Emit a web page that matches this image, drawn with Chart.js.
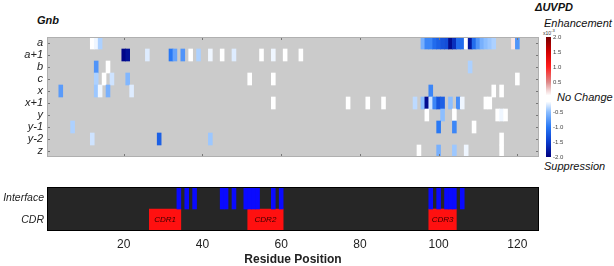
<!DOCTYPE html>
<html>
<head>
<meta charset="utf-8">
<script src="https://cdn.jsdelivr.net/npm/chart.js"></script>
<style>
  body { margin: 0; background: #fff; width: 614px; height: 266px; overflow: hidden; position: relative;
         font-family: "Liberation Sans", Arial, sans-serif; }
  canvas { position: absolute; }
  .t { position: absolute; white-space: nowrap; font-style: italic; color: #111; font-size: 11px; line-height: 1; }
</style>
</head>
<body>
<div class="t" style="left:37px;top:15px;font-weight:bold;">Gnb</div>
<div class="t" style="left:535px;top:2px;font-weight:bold;">&Delta;UVPD</div>
<div class="t" style="left:544px;top:18px;">Enhancement</div>
<div class="t" style="left:543px;top:29px;font-size:5px;font-style:normal;color:#333;">x10<sup>-3</sup></div>
<div class="t" style="left:557px;top:92px;">No Change</div>
<div class="t" style="left:544px;top:161px;">Suppression</div>

<canvas id="heat" width="539" height="120" style="left:0;top:37px;"></canvas>
<canvas id="seq" width="539" height="79" style="left:0;top:187px;"></canvas>
<canvas id="cbar" width="30" height="134" style="left:546px;top:30px;"></canvas>

<script>
// rows of the heatmap (top to bottom)
const rows = ['a', 'a+1', 'b', 'c', 'x', 'x+1', 'y', 'y-1', 'y-2', 'z'];

// [residue, delta UVPD (x10^-3)] per row
const cellsA   = [[12,-0.05],[13,-0.2],[14,-0.4],[96,-0.6],[97,-0.9],[98,-0.9],[99,-1.1],[100,-1.2],[101,-1.3],
                  [102,-1.35],[103,-1.9],[104,-1.6],[105,-1.1],[106,-1.1],[107,-0.05],[108,-1.8],[109,-1.1],
                  [110,-0.8],[111,-0.6],[112,-0.5],[113,-0.45],[114,-0.4],[119,0.15],[120,-0.8]];
const cellsA1  = [[20,-1.95],[21,-1.85],[26,-0.25],[32,-1.0],[33,-0.7],[35,-0.8],[37,-0.15],[39,-0.4],[42,-0.2],
                  [45,-0.1],[48,-0.25],[55,-0.1],[58,-0.2],[61,-0.15],[65,-0.15]];
const cellsB   = [[13,-0.8],[16,-0.05],[108,-0.4]];
const cellsC   = [[13,-0.4],[15,-0.02],[17,-0.3],[21,-0.55],[52,-0.05],[58,-0.15],[120,-0.03]];
const cellsX   = [[4,-0.75],[13,-0.45],[14,-0.2],[16,-0.6],[22,-0.25],[98,-0.9],[114,-0.12],[116,-0.15]];
const cellsX1  = [[58,-0.12],[77,-0.03],[82,-0.12],[86,-0.03],[94,-0.35],[96,-0.5],[97,-1.9],[98,-0.3],[99,-0.9],
                  [100,-1.3],[101,-1.2],[103,-0.5],[105,-0.85],[106,-0.2],[112,-0.1],[113,-0.1]];
const cellsY   = [[97,-0.03],[101,-0.5],[104,-0.03],[115,-0.15],[116,-0.2],[117,-0.15]];
const cellsY1  = [[7,-0.4],[100,-1.0],[104,-0.9],[109,-0.15]];
const cellsY2  = [[12,-0.3],[29,-1.2],[42,-0.45],[116,-0.03]];
const cellsZ   = [[95,-0.03],[100,-0.6],[104,-0.45],[107,-0.2],[116,-0.03]];
const rowCells = [cellsA, cellsA1, cellsB, cellsC, cellsX, cellsX1, cellsY, cellsY1, cellsY2, cellsZ];

// lower panel
const interfaceResidues = [34, 36, 38, 45, 46, 48, 51, 52, 53, 54, 58, 60, 98, 100, 102, 103, 104, 106];
const cdrNames = ['CDR1', 'CDR2', 'CDR3'];
const cdrStart = [27, 52, 98];
const cdrEnd   = [34, 60, 104];

const xTicks = [20, 40, 60, 80, 100, 120];
const barTicks = [2.0, 1.5, 1.0, 0.5, -0.5, -1.0, -1.5, -2.0];

// colormap (value -> rgb)
const stops = [[-2, [0,0,128]], [-1.5, [10,60,205]], [-1, [40,120,245]], [-0.5, [140,190,255]],
               [-0.15, [255,255,255]], [0.05, [255,255,255]], [0.25, [240,205,205]], [0.5, [222,135,135]],
               [1, [255,30,30]], [1.5, [210,0,0]], [2, [120,0,0]]];

function colorFor(v) {
  if (v <= stops[0][0]) return 'rgb(' + stops[0][1].join(',') + ')';
  for (let i = 1; i < stops.length; i++) {
    if (v <= stops[i][0]) {
      const [v0, c0] = stops[i-1], [v1, c1] = stops[i];
      const f = (v - v0) / (v1 - v0);
      return 'rgb(' + c0.map((c, k) => Math.round(c + (c1[k] - c) * f)).join(',') + ')';
    }
  }
  return 'rgb(' + stops[stops.length-1][1].join(',') + ')';
}

const font = { family: '"Liberation Sans", Arial, sans-serif', size: 11 };

// category axis with fixed width and no extra label padding
const fixedYAxis = s => { s.width = 47; s.paddingTop = 0; s.paddingBottom = 0; };

// fill + outline of the plot area, inner tick marks
function panelPlugin(fill, stroke, ticks) {
  return {
    id: 'panel',
    beforeDatasetsDraw(chart) {
      const { ctx, chartArea: a } = chart;
      ctx.save();
      ctx.fillStyle = fill;
      ctx.fillRect(a.left, a.top, a.right - a.left, a.bottom - a.top);
      ctx.restore();
    },
    afterDatasetsDraw(chart) {
      const { ctx, chartArea: a, scales } = chart;
      ctx.save();
      if (ticks) {
        ctx.strokeStyle = '#777';
        ctx.lineWidth = 1;
        ctx.beginPath();
        scales.y.ticks.forEach((t, i) => {
          const y = Math.round(scales.y.getPixelForTick(i)) + 0.5;
          ctx.moveTo(a.left, y); ctx.lineTo(a.left + 3, y);
          ctx.moveTo(a.right, y); ctx.lineTo(a.right - 3, y);
        });
        xTicks.forEach(v => {
          const x = Math.round(scales.x.getPixelForValue(v)) + 0.5;
          ctx.moveTo(x, a.top); ctx.lineTo(x, a.top + 3);
          ctx.moveTo(x, a.bottom); ctx.lineTo(x, a.bottom - 3);
        });
        ctx.stroke();
      }
      ctx.strokeStyle = stroke;
      ctx.lineWidth = 1;
      ctx.strokeRect(a.left + 0.5, a.top + 0.5, a.right - a.left - 1, a.bottom - a.top - 1);
      ctx.restore();
    }
  };
}

// heatmap
const heatData = [];
rows.forEach((name, i) => rowCells[i].forEach(([r, v]) => heatData.push({ x: [r - 0.5, r + 0.5], y: name, v: v })));

new Chart(document.getElementById('heat'), {
  type: 'bar',
  data: {
    labels: rows,
    datasets: [{
      data: heatData,
      backgroundColor: c => colorFor(c.raw ? c.raw.v : 0),
      borderWidth: 0,
      barPercentage: 1,
      categoryPercentage: 1,
      grouped: false
    }]
  },
  options: {
    indexAxis: 'y',
    responsive: false,
    animation: false,
    layout: { padding: 0 },
    plugins: { legend: { display: false }, tooltip: { enabled: false } },
    scales: {
      x: { type: 'linear', min: 0.5, max: 125.5, display: false },
      y: {
        type: 'category',
        offset: true,
        grid: { display: false, drawTicks: false },
        border: { display: false },
        ticks: { font: { ...font, style: 'italic' }, color: '#222', padding: 4, autoSkip: false },
        afterFit: fixedYAxis
      }
    }
  },
  plugins: [panelPlugin('#cbcbcb', '#b0b0b0', true)]
});

// interface / CDR panel
const interfaceData = interfaceResidues.map(r => ({ x: [r - 0.5, r + 0.5], y: 'Interface' }));
const cdrData = cdrNames.map((n, i) => ({ x: [cdrStart[i] - 0.5, cdrEnd[i] + 0.5], y: 'CDR', name: n }));

const cdrLabels = {
  id: 'cdrLabels',
  afterDatasetsDraw(chart) {
    const { ctx } = chart;
    const meta = chart.getDatasetMeta(1);
    ctx.save();
    ctx.font = 'italic 8px "Liberation Sans", Arial, sans-serif';
    ctx.fillStyle = '#3a0000';
    ctx.textAlign = 'center';
    ctx.textBaseline = 'middle';
    meta.data.forEach((el, i) => {
      const p = el.getCenterPoint();
      ctx.fillText(cdrData[i].name, p.x, p.y);
    });
    ctx.restore();
  }
};

new Chart(document.getElementById('seq'), {
  type: 'bar',
  data: {
    labels: ['Interface', 'CDR'],
    datasets: [
      { data: interfaceData, backgroundColor: '#0a0aff', borderWidth: 0, barPercentage: 1, categoryPercentage: 1, grouped: false },
      { data: cdrData, backgroundColor: '#ff1010', borderWidth: 0, barPercentage: 1, categoryPercentage: 1, grouped: false }
    ]
  },
  options: {
    indexAxis: 'y',
    responsive: false,
    animation: false,
    layout: { padding: 0 },
    plugins: { legend: { display: false }, tooltip: { enabled: false } },
    scales: {
      x: {
        type: 'linear', min: 0.5, max: 125.5,
        grid: { display: false, drawTicks: false },
        border: { display: false },
        afterBuildTicks: s => { s.ticks = xTicks.map(v => ({ value: v })); },
        ticks: { font: { ...font, size: 12 }, color: '#222', padding: 6, maxRotation: 0, autoSkip: false },
        title: { display: true, text: 'Residue Position', color: '#222', padding: 0,
                 font: { ...font, size: 12, weight: 'bold', lineHeight: 1 } },
        afterFit: s => { s.height = 35; }
      },
      y: {
        type: 'category',
        offset: true,
        grid: { display: false, drawTicks: false },
        border: { display: false },
        ticks: { font: { ...font, size: 10.5, style: 'italic' }, color: '#222', padding: 3, autoSkip: false },
        afterFit: fixedYAxis
      }
    }
  },
  plugins: [panelPlugin('#262626', '#000', false), cdrLabels]
});

// colour bar
new Chart(document.getElementById('cbar'), {
  type: 'bar',
  data: {
    labels: [''],
    datasets: [{
      data: [[-2, 2]],
      backgroundColor: c => {
        const a = c.chart.chartArea;
        if (!a) return '#fff';
        const g = c.chart.ctx.createLinearGradient(0, a.bottom, 0, a.top);
        stops.forEach(([v, col]) => g.addColorStop((v + 2) / 4, 'rgb(' + col.join(',') + ')'));
        return g;
      },
      borderWidth: 0,
      barPercentage: 1,
      categoryPercentage: 1
    }]
  },
  options: {
    responsive: false,
    animation: false,
    layout: { padding: { top: 7, bottom: 7 } },
    plugins: { legend: { display: false }, tooltip: { enabled: false } },
    scales: {
      x: { display: false },
      y: {
        position: 'right', min: -2, max: 2,
        grid: { display: false, drawTicks: false },
        border: { display: false },
        afterBuildTicks: s => { s.ticks = barTicks.map(v => ({ value: v })); },
        ticks: { font: { ...font, size: 6 }, color: '#444', padding: 2, callback: v => v.toFixed(1) },
        afterFit: s => { s.width = 25; }
      }
    }
  }
});
</script>
</body>
</html>
